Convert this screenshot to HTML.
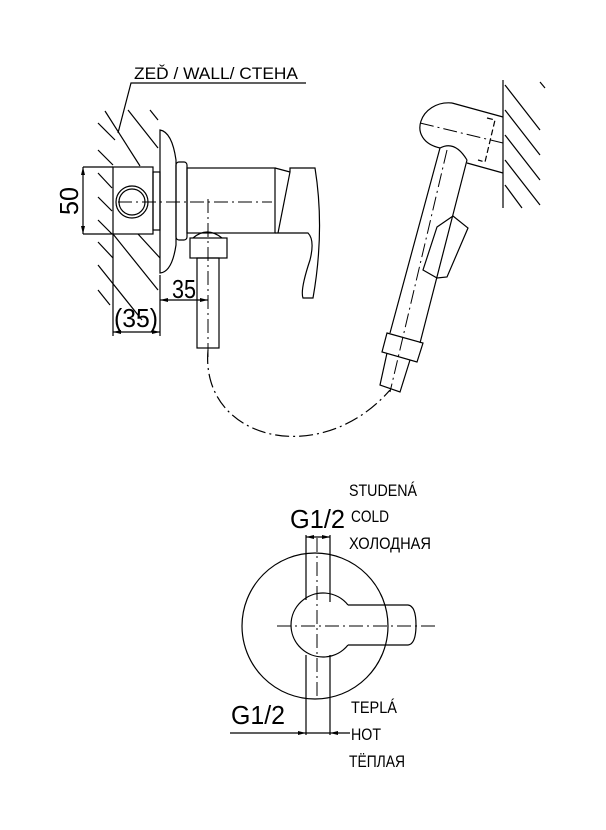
<!DOCTYPE html>
<html><head><meta charset="utf-8"><style>
html,body{margin:0;padding:0;background:#fff}
svg{display:block}
text{font-family:"Liberation Sans","DejaVu Sans",sans-serif;fill:#000}
</style></head><body>
<svg width="606" height="830" viewBox="0 0 606 830" xmlns="http://www.w3.org/2000/svg">
<g fill="none" stroke="#000" stroke-width="1.2">
<polyline points="118,133 131,83 306,83"/>
<line x1="105" y1="111" x2="140" y2="166"/>
<line x1="128" y1="110" x2="158" y2="148"/>
<line x1="150" y1="110" x2="158" y2="120"/>
<line x1="98" y1="123" x2="115" y2="140"/>
<line x1="98" y1="150" x2="113" y2="165"/>
<line x1="98" y1="173" x2="112" y2="188"/>
<line x1="98" y1="197" x2="112" y2="211"/>
<line x1="98" y1="220" x2="112" y2="234"/>
<line x1="98" y1="242" x2="113" y2="258"/>
<line x1="113" y1="234" x2="158" y2="290"/>
<line x1="98" y1="265" x2="142" y2="320"/>
<line x1="98" y1="290" x2="110" y2="305"/>
<line x1="138" y1="234" x2="160" y2="258"/>
<rect x="113" y="167" width="40" height="67"/>
<circle cx="132" cy="202" r="16"/>
<circle cx="132" cy="202" r="13"/>
<rect x="153" y="172" width="7" height="58"/>
<path d="M160,130 Q172,132 176,160 L176,245 Q172,272 160,273 Z"/>
<rect x="176" y="162" width="11" height="78" rx="3"/>
<rect x="187" y="168" width="88" height="65"/>
<path d="M275,233 L278,233 L290,172 L290,168 L315,168 Q325,230 313,298 L303,298 Q300,290 310,260 Q315,240 308,233 L278,233"/>
<line x1="275" y1="168" x2="290" y2="172"/>
<path d="M193,238 Q207,226 222,238"/>
<rect x="190" y="238" width="37" height="20"/>
<rect x="197" y="258" width="22" height="90"/>
<line x1="83" y1="167" x2="113" y2="167"/>
<line x1="83" y1="234" x2="113" y2="234"/>
<line x1="83" y1="167" x2="83" y2="234"/>
<line x1="160" y1="275" x2="160" y2="336"/>
<line x1="113" y1="234" x2="113" y2="336"/>
<line x1="160" y1="300" x2="208" y2="300"/>
<line x1="113" y1="332" x2="160" y2="332"/>
<path d="M208,350 C200,440 320,470 390,390" stroke-dasharray="14,4,2,4"/>
<path d="M452,103 L503,117 M467,163 L503,173"/>
<path d="M452,103 C420,100 405,140 440,148"/>
<path d="M440,148 L390,333 M467,160 L420,343"/>
<path d="M440,148 Q455,140 467,160"/>
<polygon points="387,333 423,343 417,362 382,352"/>
<polyline points="387,353 380,385 400,392 410,360"/>
<polygon points="437,227 453,216 468,228 447,277 437,278 423,270"/>
<line x1="503" y1="80" x2="503" y2="208"/>
<line x1="505" y1="85" x2="540" y2="130"/>
<line x1="505" y1="110" x2="540" y2="155"/>
<line x1="505" y1="135" x2="540" y2="180"/>
<line x1="505" y1="160" x2="540" y2="205"/>
<line x1="505" y1="185" x2="522" y2="208"/>
<line x1="540" y1="82" x2="545" y2="88"/>
<polyline points="487,118 495,120 485,162 478,160" stroke-dasharray="6,3"/>
<circle cx="315" cy="626" r="73"/>
<path d="M348,605 L408,605 Q416,606 416,625 Q416,644 408,645 L348,645"/>
<path d="M348,605 A32,32 0 1 0 348,645"/>
<line x1="306" y1="535" x2="306" y2="600"/>
<line x1="330" y1="535" x2="330" y2="602"/>
<line x1="306" y1="655" x2="306" y2="735"/>
<line x1="330" y1="655" x2="330" y2="735"/>
<line x1="306" y1="537" x2="330" y2="537"/>
<line x1="230" y1="733" x2="350" y2="733"/>
</g>
<g fill="none" stroke="#000" stroke-width="1" stroke-dasharray="14,4,2,4">
<line x1="118" y1="202" x2="272" y2="202"/>
<line x1="208" y1="199" x2="208" y2="360"/>
<line x1="420" y1="123" x2="503" y2="143"/>
<line x1="447" y1="150" x2="390" y2="392"/>
<line x1="277" y1="626" x2="437" y2="626"/>
<line x1="317" y1="538" x2="317" y2="700"/>
</g>
<g fill="#000">
<polygon points="83,167 81,175 85,175"/><polygon points="83,234 81,226 85,226"/>
<polygon points="208,300 200,298 200,302"/><polygon points="160,300 168,298 168,302"/>
<polygon points="113,332 121,330 121,334"/><polygon points="160,332 152,330 152,334"/>
<polygon points="306,537 314,535 314,539"/><polygon points="330,537 322,535 322,539"/>
<polygon points="306,733 298,731 298,735"/><polygon points="330,733 338,731 338,735"/>
</g>
<g font-size="17">
<text x="134" y="79" textLength="164" lengthAdjust="spacingAndGlyphs">ZEĎ / WALL/ CTEHA</text>
<text x="349" y="496" textLength="68" lengthAdjust="spacingAndGlyphs">STUDENÁ</text>
<text x="351" y="522" textLength="38" lengthAdjust="spacingAndGlyphs">COLD</text>
<text x="349" y="549" textLength="82" lengthAdjust="spacingAndGlyphs">ХОЛОДНАЯ</text>
<text x="351" y="713" textLength="46" lengthAdjust="spacingAndGlyphs">TEPLÁ</text>
<text x="351" y="740" textLength="30" lengthAdjust="spacingAndGlyphs">HOT</text>
<text x="349" y="767" textLength="56" lengthAdjust="spacingAndGlyphs">ТЁПЛАЯ</text>
</g>
<g font-size="26">
<text x="290" y="528" textLength="55" lengthAdjust="spacingAndGlyphs">G1/2</text>
<text x="231" y="724" textLength="54" lengthAdjust="spacingAndGlyphs">G1/2</text>
<text x="172" y="298" textLength="24" lengthAdjust="spacingAndGlyphs">35</text>
<text x="114" y="327" textLength="44" lengthAdjust="spacingAndGlyphs">(35)</text>
<text transform="translate(78,215) rotate(-90)" textLength="28" lengthAdjust="spacingAndGlyphs">50</text>
</g>
</svg>
</body></html>
